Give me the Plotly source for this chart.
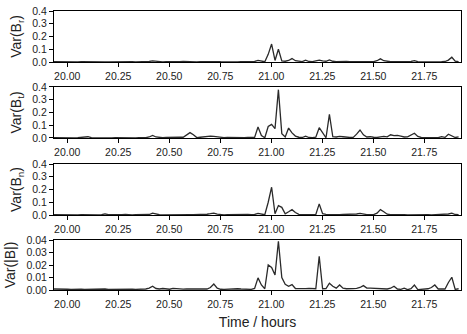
import plotly.graph_objects as go

# time axis: 1-minute samples (hours)
t_start = 19.935
n_points = 120
time_h = [t_start + i / 60.0 for i in range(n_points)]

var_br = [0.002,0.001,0.002,0.001,0.001,0.002,0.001,0.001,0.002,0.001,
          0.001,0.002,0.001,0.001,0.002,0.001,0.001,0.002,0.001,0.001,
          0.002,0.001,0.001,0.002,0.001,0.001,0.002,0.001,0.004,0.009,
          0.006,0.002,0.001,0.002,0.001,0.003,0.001,0.002,0.004,0.002,
          0.001,0.002,0.001,0.002,0.003,0.002,0.004,0.007,0.003,0.002,
          0.001,0.002,0.001,0.002,0.001,0.003,0.002,0.001,0.002,0.004,
          0.012,0.004,0.002,0.060,0.141,0.012,0.100,0.008,0.006,0.012,
          0.027,0.010,0.004,0.003,0.015,0.004,0.003,0.006,0.014,0.008,
          0.006,0.016,0.006,0.003,0.004,0.008,0.004,0.002,0.003,0.002,
          0.002,0.001,0.003,0.002,0.003,0.010,0.025,0.010,0.003,0.002,
          0.002,0.001,0.002,0.003,0.002,0.004,0.010,0.003,0.002,0.001,
          0.002,0.001,0.002,0.001,0.002,0.004,0.015,0.037,0.006,0.002]

var_bt = [0.002,0.001,0.002,0.002,0.001,0.002,0.001,0.002,0.003,0.004,
          0.010,0.003,0.002,0.005,0.002,0.004,0.002,0.001,0.003,0.002,
          0.006,0.002,0.001,0.002,0.001,0.003,0.002,0.003,0.008,0.020,
          0.008,0.003,0.002,0.004,0.006,0.003,0.005,0.007,0.006,0.025,
          0.042,0.025,0.003,0.006,0.010,0.012,0.014,0.013,0.010,0.004,
          0.003,0.005,0.004,0.002,0.003,0.002,0.003,0.004,0.003,0.005,
          0.086,0.020,0.002,0.090,0.107,0.073,0.379,0.034,0.008,0.078,
          0.040,0.015,0.006,0.004,0.015,0.004,0.003,0.006,0.081,0.040,
          0.002,0.186,0.010,0.008,0.012,0.010,0.006,0.004,0.005,0.030,
          0.063,0.025,0.008,0.010,0.006,0.004,0.008,0.012,0.009,0.025,
          0.018,0.020,0.015,0.008,0.009,0.020,0.037,0.012,0.004,0.003,
          0.003,0.002,0.004,0.003,0.010,0.005,0.030,0.015,0.004,0.008]

var_bn = [0.002,0.001,0.002,0.001,0.002,0.001,0.002,0.001,0.002,0.001,
          0.002,0.001,0.002,0.001,0.003,0.008,0.003,0.002,0.001,0.002,
          0.003,0.005,0.002,0.001,0.002,0.001,0.002,0.001,0.004,0.015,
          0.006,0.002,0.001,0.002,0.001,0.002,0.005,0.002,0.001,0.005,
          0.003,0.002,0.002,0.003,0.004,0.006,0.010,0.015,0.007,0.002,
          0.001,0.002,0.003,0.002,0.001,0.002,0.003,0.005,0.002,0.004,
          0.012,0.004,0.002,0.100,0.218,0.010,0.074,0.060,0.010,0.025,
          0.042,0.020,0.005,0.003,0.002,0.003,0.002,0.004,0.087,0.010,
          0.005,0.003,0.002,0.003,0.002,0.004,0.005,0.003,0.004,0.008,
          0.013,0.006,0.003,0.002,0.003,0.015,0.042,0.025,0.006,0.003,
          0.004,0.002,0.003,0.002,0.001,0.002,0.003,0.002,0.001,0.002,
          0.002,0.001,0.002,0.001,0.003,0.002,0.008,0.015,0.004,0.002]

var_bmag = [0.0008,0.0006,0.0007,0.0005,0.0006,0.0005,0.0007,0.0005,0.0006,0.0005,
            0.0006,0.0005,0.0007,0.0005,0.0006,0.0008,0.0005,0.0006,0.0005,0.0006,
            0.0005,0.0006,0.0005,0.0007,0.0005,0.0006,0.0005,0.0008,0.0015,0.0030,
            0.0012,0.0008,0.0012,0.0008,0.0006,0.0013,0.0009,0.0008,0.0007,0.0009,
            0.0008,0.0007,0.0008,0.0007,0.0006,0.0008,0.0020,0.0048,0.0015,0.0006,
            0.0005,0.0006,0.0010,0.0013,0.0010,0.0008,0.0007,0.0006,0.0005,0.0012,
            0.0097,0.0040,0.0010,0.0200,0.0180,0.0120,0.0390,0.0100,0.0045,0.0030,
            0.0043,0.0012,0.0010,0.0009,0.0011,0.0013,0.0012,0.0010,0.0270,0.0010,
            0.0012,0.0054,0.0030,0.0015,0.0040,0.0015,0.0010,0.0013,0.0011,0.0013,
            0.0020,0.0035,0.0015,0.0015,0.0013,0.0012,0.0010,0.0011,0.0008,0.0014,
            0.0030,0.0008,0.0005,0.0015,0.0003,0.0010,0.0040,0.0003,0.0004,0.0006,
            0.0010,0.0020,0.0040,0.0008,0.0009,0.0008,0.0060,0.0102,0.0005,0.0010]

series = [var_br, var_bt, var_bn, var_bmag]
y_titles = ["Var(B<sub>r</sub>)", "Var(B<sub>t</sub>)", "Var(B<sub>n</sub>)", "Var(|B|)"]
y_ranges = [[0, 0.4], [0, 0.4], [0, 0.4], [0, 0.04]]
y_tickvals = [[0, 0.1, 0.2, 0.3, 0.4]] * 3 + [[0, 0.01, 0.02, 0.03, 0.04]]
y_formats = [".1f", ".1f", ".1f", ".2f"]
x_tickvals = [20.0, 20.25, 20.5, 20.75, 21.0, 21.25, 21.5, 21.75]
x_title = "Time / hours"

domains = [[0.8172, 1.0], [0.5448, 0.7276], [0.2688, 0.4516], [0.0, 0.1792]]

FONT = "Liberation Sans, Arial, sans-serif"
fig = go.Figure()
layout = dict(
    width=467, height=334,
    margin=dict(l=54, r=6, t=11, b=44),
    paper_bgcolor="white", plot_bgcolor="white",
    showlegend=False,
    font=dict(family=FONT, size=11, color="black"),
)

for k in range(4):
    sfx = "" if k == 0 else str(k + 1)
    fig.add_trace(go.Scatter(
        x=time_h, y=series[k], mode="lines",
        line=dict(color="#2a2a2a", width=1.3),
        xaxis="x" + sfx, yaxis="y" + sfx, hoverinfo="skip"))
    xa = dict(
        domain=[0, 1], anchor="y" + sfx,
        range=[time_h[0], time_h[-1] + 0.0117],
        tickvals=x_tickvals, tickformat=".2f",
        ticks="outside", ticklen=4, tickwidth=1, tickcolor="black",
        showline=True, mirror=True, linecolor="black", linewidth=1,
        showgrid=False, zeroline=False,
        tickfont=dict(family=FONT, size=10.5, color="#222"),
    )
    if k == 3:
        xa["title"] = dict(text=x_title, font=dict(family=FONT, size=14, color="#222"), standoff=8)
    ya = dict(
        domain=domains[k], anchor="x" + sfx,
        range=y_ranges[k], tickvals=y_tickvals[k], tickformat=y_formats[k],
        ticks="outside", ticklen=4, tickwidth=1, tickcolor="black",
        showline=True, mirror=True, linecolor="black", linewidth=1,
        showgrid=False, zeroline=False,
        tickfont=dict(family=FONT, size=10.5, color="#222"),
        title=dict(text=y_titles[k], font=dict(family=FONT, size=14, color="#222"), standoff=7),
    )
    layout["xaxis" + sfx] = xa
    layout["yaxis" + sfx] = ya

fig.update_layout(**layout)
fig.write_html("out.html")
